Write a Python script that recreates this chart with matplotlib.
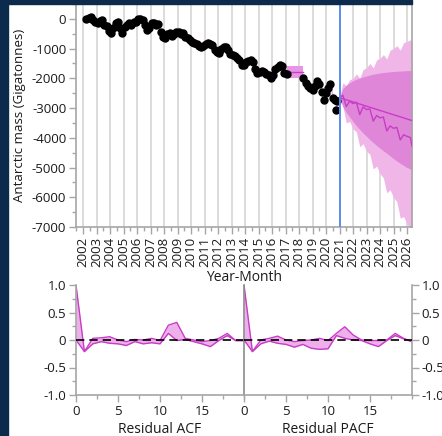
import numpy as np
import matplotlib
matplotlib.use("Agg")
import matplotlib.pyplot as plt
from matplotlib.patches import Rectangle
from matplotlib.ticker import MultipleLocator, FixedLocator

plt.rcParams['font.family'] = ['Open Sans', 'DejaVu Sans']
plt.rcParams['axes.unicode_minus'] = False

# ---------------- data ----------------
obs1_start = 2002.25  # bimonthly observations
obs1_vals = [0, 30, 50, -30, -100, -150, -60, -40, -200, -250, -420, -480, -310, -150, -90,
             -300, -470, -280, -200, -150, -200, -110, -90, -20, 10, -40, -200, -380, -300,
             -150, -130, -200, -180, -450, -600, -660, -520, -470, -560, -520, -430, -440,
             -500, -470, -600, -650, -720, -770, -800, -830, -900, -950, -900, -840, -800,
             -860, -880, -1050, -1130, -1150, -1000, -950, -930, -1050, -1180, -1210, -1250,
             -1320, -1400, -1540, -1560, -1450, -1420, -1380, -1440, -1700, -1820, -1800,
             -1760, -1780, -1860, -1900, -1990, -1900, -1680, -1620, -1560, -1580, -1820, -1850]
obs2_times = [2018.33, 2018.5, 2018.67, 2018.83, 2019.0, 2019.17, 2019.33, 2019.5, 2019.67,
              2019.83, 2020.0, 2020.17, 2020.33, 2020.5, 2020.67, 2020.75, 2020.83]
obs2_vals = [-1990, -2150, -2270, -2330, -2380, -2250, -2100, -2180, -2450, -2720, -2490,
             -2330, -2200, -2660, -2720, -3050, -2770]
gap_times = [2017.08, 2018.33]
gap_fit = [-1790, -1790]
gap_hi = [-1600, -1600]
gap_lo = [-1990, -1990]

fc_start = 2021.0
fc_end = 2026.37
fc_seasonal = [-2650, -2570, -2950, -2770, -2850, -2800, -3220, -2960, -3050, -3030, -3440,
               -3250, -3330, -3300, -3770, -3600, -3680, -3650, -4070, -3900, -3950, -3990, -4280]
trend_ends = [-2650, -3420]
inner_hi = [-2650, -2350, -2230, -2150, -2080, -2030, -1990, -1950, -1920, -1890, -1860, -1840,
            -1820, -1805, -1790, -1780, -1770, -1762, -1755, -1748, -1742, -1738, -1735]
inner_lo = [-2650, -2950, -3150, -3300, -3450, -3590, -3720, -3840, -3950, -4060, -4160, -4260,
            -4350, -4440, -4520, -4610, -4700, -4780, -4860, -4930, -5000, -5050, -5080]
outer_hi = [-2650, -2150, -2250, -2050, -2000, -1850, -2000, -1700, -1650, -1500, -1650, -1380,
            -1330, -1200, -1350, -1050, -1000, -900, -1050, -800, -760, -700, -800]
outer_lo = [-2650, -2950, -3500, -3450, -3700, -3800, -4300, -4200, -4450, -4550, -5050, -4950,
            -5200, -5350, -5850, -5750, -6000, -6150, -6700, -6650, -6900, -7050, -7400]

years = list(range(2002, 2027))

acf_upper = [1.0, -0.21, 0.03, 0.04, 0.06, 0.0, -0.03, 0.01, 0.0, 0.03, -0.01, 0.27, 0.32, 0.03,
             0.0, -0.03, -0.01, 0.03, 0.12, -0.01, -0.01]
acf_lower = [0.0, -0.21, -0.07, -0.03, -0.06, -0.07, -0.10, -0.03, -0.07, -0.05, -0.07, 0.12,
             -0.01, 0.01, -0.03, -0.07, -0.12, -0.01, 0.08, -0.01, -0.01]
pacf_upper = [1.0, -0.21, 0.0, 0.03, 0.07, 0.0, -0.03, -0.01, 0.0, 0.03, -0.01, 0.12, 0.24, 0.09,
              0.0, -0.01, -0.01, 0.0, 0.12, 0.03, -0.03]
pacf_lower = [0.0, -0.21, -0.07, -0.02, -0.06, -0.08, -0.13, -0.08, -0.15, -0.17, -0.16, 0.08,
              0.03, 0.0, -0.01, -0.07, -0.12, -0.01, 0.08, 0.02, -0.03]

# ---------------- figure ----------------
W, H = 442, 436
fig = plt.figure(figsize=(W / 100, H / 100), dpi=100, facecolor='white')

def fx(px):
    return px / W

def fy(py):
    return 1 - py / H

spine_c = '#a6a6a6'
grid_c = '#d9d9d9'
text_c = '#1a1a1a'
mag = '#c83cc8'

# top plot
ax = fig.add_axes([fx(76), fy(227), fx(412) - fx(76), fy(4) - fy(227)])
ax.set_xlim(2001.48, 2026.37)
ax.set_ylim(-7000, 500)
for y in years:
    ax.axvline(y, color=grid_c, lw=1.3, zorder=0)

t1 = obs1_start + np.arange(len(obs1_vals)) / 6.0
v1 = np.array(obs1_vals)
ax.fill_between(t1, v1 - 150, v1 + 150, color='#f0a6ec', lw=0, zorder=1)
t2 = np.array(obs2_times)
v2 = np.array(obs2_vals)
ax.fill_between(t2, v2 - 150, v2 + 150, color='#f0a6ec', lw=0, zorder=1)
ax.fill_between(gap_times, gap_lo, gap_hi, color='#e896e4', lw=0, zorder=1)
ax.plot(gap_times, gap_fit, color=mag, lw=1.0, zorder=2)

tf = np.append(np.arange(fc_start, 2026.26, 0.25), fc_end)
ax.fill_between(tf, outer_lo, outer_hi, color='#f0b6e8', lw=0, zorder=1)
ax.fill_between(tf, inner_lo, inner_hi, color='#df86d8', lw=0, zorder=1)
ax.plot([fc_start, fc_end], trend_ends, color=mag, lw=1.0, zorder=3)
ax.plot(tf, fc_seasonal, color=mag, lw=1.0, zorder=3)

ax.plot(t1, v1, 'o', color='black', ms=5.0, mec='black', zorder=4)
ax.plot(t2, v2, 'o', color='black', ms=5.0, mec='black', zorder=4)

ax.axvline(fc_start, color='#5b8cf0', lw=1.4, zorder=5)

ax.set_xticks(years)
ax.set_xticklabels([str(y) for y in years], rotation=90, fontsize=9.5, color=text_c)
ax.xaxis.set_minor_locator(FixedLocator(np.arange(2001.5, 2026.4, 1.0)))
ax.set_yticks(range(-7000, 1, 1000))
ax.set_yticklabels([str(v) for v in range(-7000, 1, 1000)], fontsize=9.5, color=text_c)
ax.yaxis.set_minor_locator(MultipleLocator(500))
ax.tick_params(axis='both', which='major', direction='out', length=5, width=1, color=spine_c, pad=2)
ax.tick_params(axis='both', which='minor', direction='out', length=3, width=1, color=spine_c)
for s in ax.spines.values():
    s.set_color(spine_c)
    s.set_linewidth(1.2)
ax.set_ylabel('Antarctic mass (Gigatonnes)', fontsize=9.5, color=text_c, labelpad=4)
ax.set_xlabel('Year-Month', fontsize=10, color=text_c, labelpad=2)

# ACF panels
bot = fy(395)
hgt = fy(285) - fy(395)
ax1 = fig.add_axes([fx(76), bot, fx(244) - fx(76), hgt])
ax2 = fig.add_axes([fx(244), bot, fx(412) - fx(244), hgt])
lags = np.arange(len(acf_upper))
for a, up, lo, lab in [(ax1, acf_upper, acf_lower, 'Residual ACF'),
                       (ax2, pacf_upper, pacf_lower, 'Residual PACF')]:
    a.set_xlim(0, 20)
    a.set_ylim(-1, 1)
    a.fill_between(lags, lo, up, color='#eeb0ea', lw=0, zorder=1)
    a.plot(lags, up, color=mag, lw=1.0, zorder=2)
    a.plot(lags, lo, color=mag, lw=1.0, zorder=2)
    a.axhline(0, color='black', lw=1.2, ls=(0, (5, 3)), zorder=3)
    a.set_xticks([0, 5, 10, 15])
    a.set_xticklabels(['0', '5', '10', '15'], fontsize=9.5, color=text_c)
    a.xaxis.set_minor_locator(MultipleLocator(2.5))
    a.set_yticks([-1, -0.5, 0, 0.5, 1])
    a.set_yticklabels(['-1.0', '-0.5', '0', '0.5', '1.0'], fontsize=9.5, color=text_c)
    a.yaxis.set_minor_locator(MultipleLocator(0.25))
    a.tick_params(axis='both', which='major', direction='out', length=5, width=1, color=spine_c, pad=2)
    a.tick_params(axis='both', which='minor', direction='out', length=3, width=1, color=spine_c)
    a.spines['top'].set_visible(False)
    for s in a.spines.values():
        s.set_color(spine_c)
        s.set_linewidth(1.2)
    a.set_xlabel(lab, fontsize=10, color=text_c, labelpad=3)

ax1.spines['right'].set_visible(False)
ax2.spines['left'].set_color('#8c8c8c')
ax2.yaxis.tick_right()
ax2.yaxis.set_label_position('right')
ax2.tick_params(axis='y', which='both', left=False, right=True)

# dark window chrome strips
navy = '#0c2a4c'
fig.patches.append(Rectangle((0, 0), fx(8), 1, transform=fig.transFigure, color=navy, zorder=10))
fig.patches.append(Rectangle((0, fy(4)), fx(412), 1 - fy(4), transform=fig.transFigure, color=navy, zorder=10))

fig.savefig('out.png', dpi=100, facecolor='white')
